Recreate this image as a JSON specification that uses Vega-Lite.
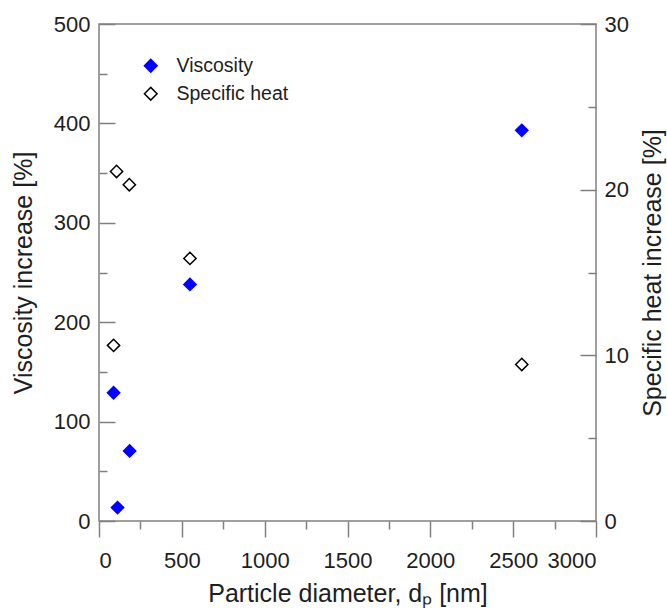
{
  "$schema": "https://vega.github.io/schema/vega-lite/v6.json",
  "width": 497,
  "height": 497,
  "autosize": {"type": "none"},
  "padding": {"left": 99, "top": 24, "right": 71, "bottom": 91},
  "background": "white",
  "config": {
    "font": "Liberation Sans",
    "view": {"stroke": "#808080", "strokeWidth": 1.5},
    "axis": {
      "domain": false,
      "grid": false,
      "tickColor": "#808080",
      "tickWidth": 1.5,
      "labelColor": "#1e1e1e",
      "titleColor": "#1e1e1e",
      "labelFontSize": 22,
      "titleFontSize": 24,
      "titleFontWeight": "normal",
      "labelFont": "Liberation Sans",
      "titleFont": "Liberation Sans"
    }
  },
  "data": {
    "values": [
      {"d": 88, "series": "Viscosity", "value": 129},
      {"d": 185, "series": "Viscosity", "value": 70.5},
      {"d": 112, "series": "Viscosity", "value": 13.5},
      {"d": 549, "series": "Viscosity", "value": 238},
      {"d": 2552, "series": "Viscosity", "value": 393},
      {"d": 106, "series": "Specific heat", "value": 21.1},
      {"d": 183, "series": "Specific heat", "value": 20.3},
      {"d": 549, "series": "Specific heat", "value": 15.85},
      {"d": 88, "series": "Specific heat", "value": 10.6},
      {"d": 2552, "series": "Specific heat", "value": 9.45}
    ]
  },
  "layer": [
    {
      "transform": [{"filter": "datum.series == 'Viscosity'"}],
      "mark": {"type": "point", "filled": true, "shape": "diamond", "size": 150, "strokeWidth": 1.5, "opacity": 1},
      "encoding": {
        "x": {
          "field": "d", "type": "quantitative",
          "scale": {"domain": [0, 3000], "nice": false, "zero": false},
          "axis": {"orient": "bottom", "values": [0, 500, 1000, 1500, 2000, 2500, 3000], "format": "d", "tickSize": 16, "labelPadding": 13, "title": "Particle diameter, dₚ [nm]", "titleFontSize": 25, "titlePadding": 10}
        },
        "y": {
          "field": "value", "type": "quantitative",
          "scale": {"domain": [0, 500], "nice": false, "zero": false},
          "axis": {"orient": "left", "values": [0, 100, 200, 300, 400, 500], "tickSize": -16, "labelPadding": 25, "title": "Viscosity increase [%]", "titleFontSize": 25, "titlePadding": 17}
        },
        "fill": {
          "field": "series", "type": "nominal",
          "scale": {"domain": ["Viscosity", "Specific heat"], "range": ["#0000ff", "#ffffff"]},
          "legend": {"orient": "none", "legendX": 42, "legendY": 32, "title": null, "symbolType": "diamond", "symbolSize": 160, "symbolStrokeWidth": 1.5, "labelFontSize": 19.5, "labelColor": "#1e1e1e", "labelOffset": 16, "rowPadding": 7, "labelFont": "Liberation Sans"}
        },
        "stroke": {
          "field": "series", "type": "nominal",
          "scale": {"domain": ["Viscosity", "Specific heat"], "range": ["#0000ff", "#000000"]},
          "legend": {"orient": "none", "legendX": 42, "legendY": 32, "title": null, "symbolType": "diamond", "symbolSize": 160, "symbolStrokeWidth": 1.5, "labelFontSize": 19.5, "labelColor": "#1e1e1e", "labelOffset": 16, "rowPadding": 7, "labelFont": "Liberation Sans"}
        }
      }
    },
    {
      "transform": [{"filter": "datum.series == 'Specific heat'"}],
      "mark": {"type": "point", "filled": true, "shape": "diamond", "size": 150, "strokeWidth": 1.5, "opacity": 1},
      "encoding": {
        "x": {
          "field": "d", "type": "quantitative",
          "scale": {"domain": [0, 3000], "nice": false, "zero": false},
          "axis": {"orient": "bottom", "values": [250, 750, 1250, 1750, 2250, 2750], "tickSize": 8, "labels": false, "title": null}
        },
        "y": {
          "field": "value", "type": "quantitative",
          "scale": {"domain": [0, 30], "nice": false, "zero": false},
          "axis": {"orient": "right", "values": [0, 10, 20, 30], "tickSize": -16, "labelPadding": 24, "title": "Specific heat increase [%]", "titleAngle": 270, "titleFontSize": 25, "titlePadding": 37}
        },
        "fill": {"field": "series", "type": "nominal", "scale": {"domain": ["Viscosity", "Specific heat"], "range": ["#0000ff", "#ffffff"]}},
        "stroke": {"field": "series", "type": "nominal", "scale": {"domain": ["Viscosity", "Specific heat"], "range": ["#0000ff", "#000000"]}}
      }
    },
    {
      "transform": [{"filter": "datum.series == 'Viscosity'"}],
      "mark": {"type": "point", "opacity": 0},
      "encoding": {
        "x": {"field": "d", "type": "quantitative", "scale": {"domain": [0, 3000], "nice": false, "zero": false}, "axis": null},
        "y": {
          "field": "value", "type": "quantitative",
          "scale": {"domain": [0, 500], "nice": false, "zero": false},
          "axis": {"orient": "left", "values": [50, 150, 250, 350, 450], "tickSize": -8, "labels": false, "title": null}
        }
      }
    },
    {
      "transform": [{"filter": "datum.series == 'Specific heat'"}],
      "mark": {"type": "point", "opacity": 0},
      "encoding": {
        "x": {"field": "d", "type": "quantitative", "scale": {"domain": [0, 3000], "nice": false, "zero": false}, "axis": null},
        "y": {
          "field": "value", "type": "quantitative",
          "scale": {"domain": [0, 30], "nice": false, "zero": false},
          "axis": {"orient": "right", "values": [5, 15, 25], "tickSize": -8, "labels": false, "title": null}
        }
      }
    }
  ],
  "resolve": {"scale": {"y": "independent"}, "axis": {"x": "independent", "y": "independent"}}
}
